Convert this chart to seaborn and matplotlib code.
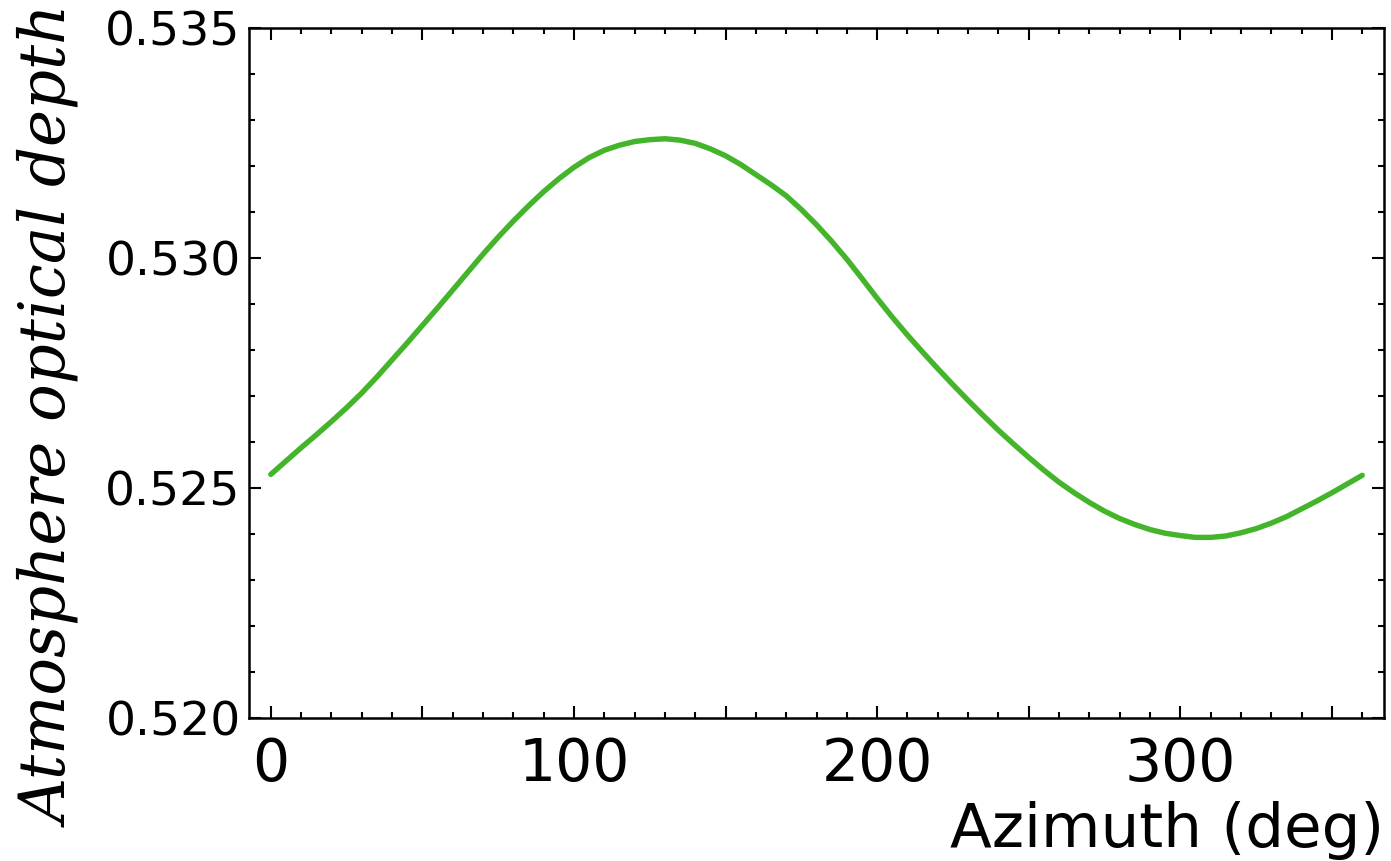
import numpy as np
import pandas as pd
import matplotlib
matplotlib.use('Agg')
import matplotlib.pyplot as plt
from matplotlib.ticker import MultipleLocator, FuncFormatter
import seaborn as sns

# azimuth (deg) and optical depth, every 5 deg
azimuth = list(range(0, 365, 5))
depth = [0.52530, 0.52559, 0.52588, 0.52616, 0.52645, 0.52675, 0.52707, 0.52742,
         0.52779, 0.52816, 0.52854, 0.52892, 0.52931, 0.52970, 0.53009, 0.53046,
         0.53081, 0.53114, 0.53145, 0.53173, 0.53198, 0.53219, 0.53235, 0.53246,
         0.53254, 0.53258, 0.53260, 0.53257, 0.53250, 0.53238, 0.53223, 0.53204,
         0.53182, 0.53160, 0.53136, 0.53106, 0.53073, 0.53037, 0.52998, 0.52956,
         0.52913, 0.52872, 0.52833, 0.52796, 0.52760, 0.52725, 0.52691, 0.52658,
         0.52626, 0.52596, 0.52567, 0.52539, 0.52513, 0.52490, 0.52469, 0.52450,
         0.52434, 0.52421, 0.52410, 0.52402, 0.52397, 0.52393, 0.52393, 0.52396,
         0.52403, 0.52412, 0.52424, 0.52438, 0.52455, 0.52472, 0.52490, 0.52509,
         0.52528]

df = pd.DataFrame({'az': azimuth, 'tau': depth})

sns.set_style('ticks')
plt.rcParams['font.family'] = ['DejaVu Sans']
plt.rcParams['text.color'] = 'black'
plt.rcParams['axes.labelcolor'] = 'black'
plt.rcParams['xtick.color'] = 'black'
plt.rcParams['ytick.color'] = 'black'

fig = plt.figure(figsize=(13.91, 8.61), dpi=100)
ax = fig.add_axes([0.179, 0.166, 0.816, 0.801])

sns.lineplot(data=df, x='az', y='tau', color='#44b52a', linewidth=3.9, ax=ax)

ax.set_xlim(-7.2, 367.2)
ax.set_ylim(0.520, 0.535)

# 50 deg major ticks, but only every 100 labelled
ax.xaxis.set_major_locator(MultipleLocator(50))
ax.xaxis.set_minor_locator(MultipleLocator(10))
ax.xaxis.set_major_formatter(FuncFormatter(lambda v, p: '%d' % v if round(v) % 100 == 0 else ''))
ax.yaxis.set_major_locator(MultipleLocator(0.005))
ax.yaxis.set_minor_locator(MultipleLocator(0.001))
ax.yaxis.set_major_formatter(FuncFormatter(lambda v, p: '%.3f' % v))

ax.tick_params(which='both', direction='in', top=True, right=True, width=1.5, color='black')
ax.tick_params(which='major', length=8.6)
ax.tick_params(which='minor', length=4.3)
ax.tick_params(axis='x', labelsize=42, pad=13)
ax.tick_params(axis='y', labelsize=34, pad=6)

for s in ax.spines.values():
    s.set_linewidth(1.8)
    s.set_color('black')

ax.set_xlabel('Azimuth (deg)', fontsize=44, loc='right')
ax.xaxis.set_label_coords(1.0, -0.12)
ax.set_ylabel('Atmosphere optical depth', fontsize=45, family='DejaVu Serif', style='italic')
ax.yaxis.set_label_coords(-0.174, 0.436)
ax.yaxis.label.set_verticalalignment('center')

fig.savefig('out.png', dpi=100)
